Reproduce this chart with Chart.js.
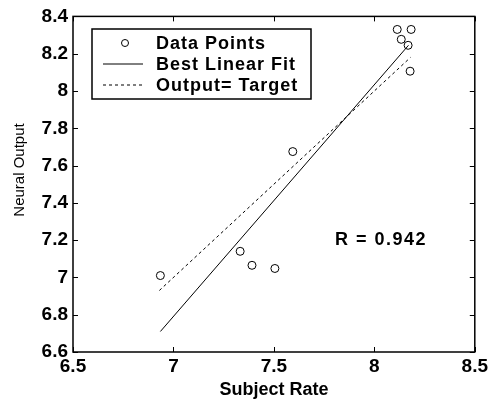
<!DOCTYPE html>
<html>
<head>
<meta charset="utf-8">
<script src="https://cdn.jsdelivr.net/npm/chart.js@4/dist/chart.umd.min.js"></script>
<style>
    html, body { margin: 0; padding: 0; background: #fff; }
    #wrap { width: 491px; height: 401px; }
</style>
</head>
<body>
<div id="wrap"><canvas id="myChart" width="491" height="401"></canvas></div>
<script>
// measured points
const subjectRate = [6.935, 7.332, 7.391, 7.505, 7.594, 8.114, 8.183, 8.134, 8.168, 8.178];
const neuralOutput = [7.01, 7.14, 7.065, 7.048, 7.675, 8.33, 8.33, 8.277, 8.245, 8.106];

// end points of the two reference lines
const fitX = [6.935, 8.17];
const fitY = [6.71, 8.245];
const targetX = [6.93, 8.18];
const targetY = [6.93, 8.18];

const xTicks = [6.5, 7, 7.5, 8, 8.5];
const yTicks = [6.6, 6.8, 7, 7.2, 7.4, 7.6, 7.8, 8, 8.2, 8.4];

const legendLabels = ['Data Points', 'Best Linear Fit', 'Output= Target'];
const rText = 'R = 0.942';
const yTitle = 'Neural Output';

function pairs(xs, ys) {
    return xs.map((x, i) => ({ x: x, y: ys[i] }));
}

const fontFamily = '"Liberation Sans", Arial, Helvetica, sans-serif';

// box, inward ticks, legend, R label and the y title
const decor = {
    id: 'decor',
    afterDraw(chart) {
        const ctx = chart.ctx;
        const a = chart.chartArea;
        const xs = chart.scales.x;
        const ys = chart.scales.y;
        ctx.save();
        ctx.strokeStyle = '#000';
        ctx.lineWidth = 1.5;
        ctx.strokeRect(a.left, a.top, a.right - a.left, a.bottom - a.top);

        ctx.lineWidth = 1;
        ctx.beginPath();
        xTicks.forEach(v => {
            const px = Math.round(xs.getPixelForValue(v)) + 0.5;
            ctx.moveTo(px, a.bottom); ctx.lineTo(px, a.bottom - 5);
            ctx.moveTo(px, a.top); ctx.lineTo(px, a.top + 5);
        });
        yTicks.forEach(v => {
            const py = Math.round(ys.getPixelForValue(v)) + 0.5;
            ctx.moveTo(a.left, py); ctx.lineTo(a.left + 5, py);
            ctx.moveTo(a.right, py); ctx.lineTo(a.right - 5, py);
        });
        ctx.stroke();

        // legend box
        const bx = 92, by = 29, bw = 219, bh = 70;
        ctx.fillStyle = '#fff';
        ctx.fillRect(bx, by, bw, bh);
        ctx.lineWidth = 1.5;
        ctx.strokeRect(bx, by, bw, bh);

        const rows = [43, 64, 85];
        ctx.lineWidth = 1;
        ctx.beginPath();
        ctx.arc(125, rows[0], 3.5, 0, Math.PI * 2);
        ctx.stroke();
        ctx.beginPath();
        ctx.moveTo(103, rows[1]); ctx.lineTo(143, rows[1]);
        ctx.stroke();
        ctx.setLineDash([3, 3]);
        ctx.beginPath();
        ctx.moveTo(103, rows[2]); ctx.lineTo(143, rows[2]);
        ctx.stroke();
        ctx.setLineDash([]);

        ctx.fillStyle = '#000';
        ctx.textBaseline = 'middle';
        ctx.textAlign = 'left';
        ctx.font = 'bold 18px ' + fontFamily;
        ctx.letterSpacing = '1px';
        legendLabels.forEach((t, i) => ctx.fillText(t, 156, rows[i] + 1));

        ctx.letterSpacing = '1.5px';
        ctx.fillText(rText, 335, 240);

        ctx.letterSpacing = '0px';
        ctx.font = '15px ' + fontFamily;
        ctx.textAlign = 'center';
        ctx.translate(20, 170);
        ctx.rotate(-Math.PI / 2);
        ctx.fillText(yTitle, 0, 0);
        ctx.restore();
    }
};

const ctx = document.getElementById('myChart').getContext('2d');
const chart = new Chart(ctx, {
    type: 'scatter',
    data: {
        datasets: [
            {
                label: legendLabels[0],
                data: pairs(subjectRate, neuralOutput),
                pointStyle: 'circle',
                pointRadius: 4,
                pointBorderWidth: 1,
                pointBorderColor: '#000',
                pointBackgroundColor: 'rgba(255,255,255,0)',
                showLine: false
            },
            {
                label: legendLabels[1],
                data: pairs(fitX, fitY),
                showLine: true,
                pointRadius: 0,
                borderColor: '#000',
                borderWidth: 1
            },
            {
                label: legendLabels[2],
                data: pairs(targetX, targetY),
                showLine: true,
                pointRadius: 0,
                borderColor: '#000',
                borderWidth: 1,
                borderDash: [3, 3]
            }
        ]
    },
    options: {
        responsive: false,
        animation: false,
        events: [],
        layout: {
            padding: { top: 15, right: 14, left: 0, bottom: 0 }
        },
        plugins: {
            legend: { display: false },
            tooltip: { enabled: false }
        },
        scales: {
            x: {
                type: 'linear',
                min: 6.5,
                max: 8.5,
                afterFit(scale) { scale.height = 49; },
                afterBuildTicks(scale) { scale.ticks = xTicks.map(v => ({ value: v })); },
                grid: { display: false, drawTicks: false },
                border: { display: false },
                ticks: {
                    color: '#000',
                    padding: 3,
                    font: { family: fontFamily, size: 19, weight: 'bold' },
                    callback: v => String(Math.round(v * 10) / 10)
                },
                title: {
                    display: true,
                    text: 'Subject Rate',
                    color: '#000',
                    padding: { top: 0, bottom: 0 },
                    font: { family: fontFamily, size: 18, weight: 'bold' }
                }
            },
            y: {
                type: 'linear',
                min: 6.6,
                max: 8.4,
                afterFit(scale) { scale.width = 73; },
                afterBuildTicks(scale) { scale.ticks = yTicks.map(v => ({ value: v })); },
                grid: { display: false, drawTicks: false },
                border: { display: false },
                ticks: {
                    color: '#000',
                    padding: 5,
                    font: { family: fontFamily, size: 19, weight: 'bold' },
                    callback: v => String(Math.round(v * 10) / 10)
                }
            }
        }
    },
    plugins: [decor]
});
</script>
</body>
</html>
